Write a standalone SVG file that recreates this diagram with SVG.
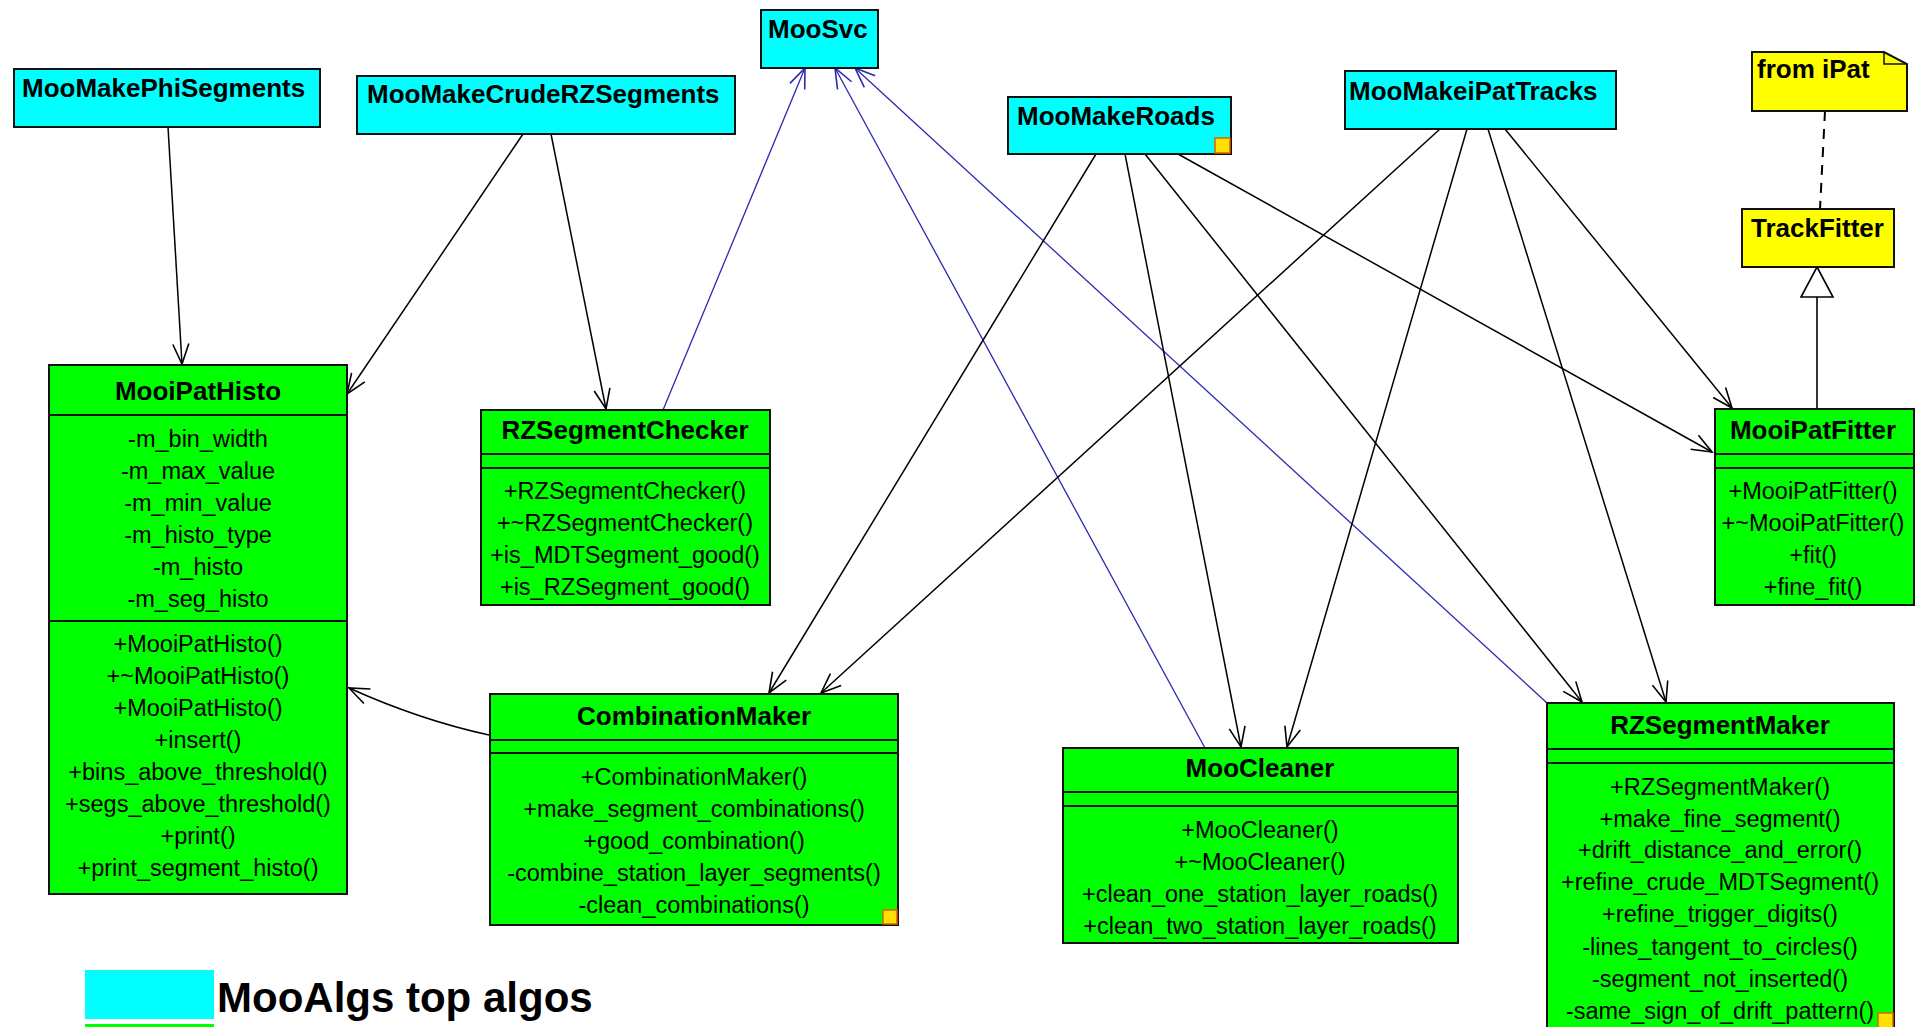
<svg xmlns="http://www.w3.org/2000/svg" width="1916" height="1027" viewBox="0 0 1916 1027">
  <defs>
    <style>
      .algo { fill: #00ffff; stroke: #111; stroke-width: 2; }
      .cls { fill: #00ff00; stroke: #111; stroke-width: 2; }
      .ext { fill: #ffff00; stroke: #111; stroke-width: 2; }
      .sep { stroke: #111; stroke-width: 2; }
      .flag { fill: #ffe000; stroke: #e06000; stroke-width: 1.5; }
      .name { font-family: "Liberation Sans", Arial, sans-serif; font-weight: bold; font-size: 26px; fill: #000; }
      .cname { font-family: "Liberation Sans", Arial, sans-serif; font-weight: bold; font-size: 26px; fill: #000; text-anchor: middle; }
      .member { font-family: "Liberation Sans", Arial, sans-serif; font-size: 23.5px; fill: #000; text-anchor: middle; }
      .dep { fill: none; stroke: #000; stroke-width: 1.5; marker-end: url(#open); }
      .use { fill: none; stroke: #2a2ab0; stroke-width: 1.3; marker-end: url(#openBlue); }
      .legend { font-family: "Liberation Sans", Arial, sans-serif; font-weight: bold; font-size: 42px; fill: #000; }
    </style>
    <marker id="open" viewBox="-22 -10 24 20" refX="0" refY="0" markerWidth="24" markerHeight="20" markerUnits="userSpaceOnUse" orient="auto">
      <path d="M-20,-8 L0,0 L-20,8" fill="none" stroke="#000" stroke-width="1.6"/>
    </marker>
    <marker id="openBlue" viewBox="-22 -10 24 20" refX="0" refY="0" markerWidth="24" markerHeight="20" markerUnits="userSpaceOnUse" orient="auto">
      <path d="M-20,-8 L0,0 L-20,8" fill="none" stroke="#2a2ab0" stroke-width="1.6"/>
    </marker>
  </defs>

  <rect width="1916" height="1027" fill="#fff"/>

  <!-- connectors -->
  <g id="connectors">
    <line class="dep" x1="168" y1="127" x2="182" y2="364"/>
    <line class="dep" x1="523" y1="134" x2="347" y2="394"/>
    <line class="dep" x1="551" y1="134" x2="606" y2="409"/>
    <line class="use" x1="663" y1="410" x2="805" y2="68"/>
    <line class="use" x1="1205" y1="748" x2="835" y2="68"/>
    <line class="use" x1="1547" y1="703" x2="855" y2="68"/>
    <line class="dep" x1="1096" y1="154" x2="769" y2="693"/>
    <line class="dep" x1="1440" y1="129" x2="821" y2="693"/>
    <line class="dep" x1="1125" y1="154" x2="1241" y2="747"/>
    <line class="dep" x1="1467" y1="129" x2="1287" y2="747"/>
    <line class="dep" x1="1145" y1="154" x2="1582" y2="702"/>
    <line class="dep" x1="1488" y1="129" x2="1666" y2="702"/>
    <line class="dep" x1="1178" y1="154" x2="1712" y2="452" stroke-width="2"/>
    <line class="dep" x1="1505" y1="129" x2="1732" y2="408"/>
    <path class="dep" d="M489,735 Q420,720 349,688"/>
    <!-- note anchor -->
    <line x1="1825" y1="111" x2="1820" y2="209" stroke="#000" stroke-width="2" stroke-dasharray="10 8"/>
    <!-- generalization MooiPatFitter -> TrackFitter -->
    <line x1="1817" y1="297" x2="1817" y2="409" stroke="#000" stroke-width="1.6"/>
    <path d="M1817,267 L1833,297 L1801,297 Z" fill="#fff" stroke="#000" stroke-width="1.6"/>
  </g>

  <!-- top-level algorithms -->
  <g id="MooMakePhiSegments">
    <rect class="algo" x="14" y="69" width="306" height="58"/>
    <text class="name" x="22" y="97">MooMakePhiSegments</text>
  </g>
  <g id="MooMakeCrudeRZSegments">
    <rect class="algo" x="357" y="76" width="378" height="58"/>
    <text class="name" x="367" y="103">MooMakeCrudeRZSegments</text>
  </g>
  <g id="MooSvc">
    <rect class="algo" x="761" y="10" width="117" height="58"/>
    <text class="name" x="768" y="38">MooSvc</text>
  </g>
  <g id="MooMakeRoads">
    <rect class="algo" x="1008" y="97" width="223" height="57"/>
    <text class="name" x="1017" y="125">MooMakeRoads</text>
    <rect class="flag" x="1215" y="138" width="15" height="15"/>
  </g>
  <g id="MooMakeiPatTracks">
    <rect class="algo" x="1345" y="71" width="271" height="58"/>
    <text class="name" x="1349" y="100">MooMakeiPatTracks</text>
  </g>

  <!-- external classes -->
  <g id="note-from-iPat">
    <path class="ext" d="M1752,52 H1884 L1907,64 V111 H1752 Z"/>
    <path d="M1884,52 V64 H1907" fill="none" stroke="#111" stroke-width="1.5"/>
    <text class="name" x="1757" y="78">from iPat</text>
  </g>
  <g id="TrackFitter">
    <rect class="ext" x="1742" y="209" width="152" height="58"/>
    <text class="name" x="1751" y="237">TrackFitter</text>
  </g>

  <!-- classes -->
  <g id="MooiPatHisto">
    <rect class="cls" x="49" y="365" width="298" height="529"/>
    <text class="cname" x="198" y="400">MooiPatHisto</text>
    <line class="sep" x1="49" y1="415" x2="347" y2="415"/>
    <text class="member" x="198" y="447">-m_bin_width</text>
    <text class="member" x="198" y="479">-m_max_value</text>
    <text class="member" x="198" y="511">-m_min_value</text>
    <text class="member" x="198" y="543">-m_histo_type</text>
    <text class="member" x="198" y="575">-m_histo</text>
    <text class="member" x="198" y="607">-m_seg_histo</text>
    <line class="sep" x1="49" y1="621" x2="347" y2="621"/>
    <text class="member" x="198" y="652">+MooiPatHisto()</text>
    <text class="member" x="198" y="684">+~MooiPatHisto()</text>
    <text class="member" x="198" y="716">+MooiPatHisto()</text>
    <text class="member" x="198" y="748">+insert()</text>
    <text class="member" x="198" y="780">+bins_above_threshold()</text>
    <text class="member" x="198" y="812">+segs_above_threshold()</text>
    <text class="member" x="198" y="844">+print()</text>
    <text class="member" x="198" y="876">+print_segment_histo()</text>
  </g>

  <g id="RZSegmentChecker">
    <rect class="cls" x="481" y="410" width="289" height="195"/>
    <text class="cname" x="625" y="439">RZSegmentChecker</text>
    <line class="sep" x1="481" y1="454" x2="770" y2="454"/>
    <line class="sep" x1="481" y1="468" x2="770" y2="468"/>
    <text class="member" x="625" y="499">+RZSegmentChecker()</text>
    <text class="member" x="625" y="531">+~RZSegmentChecker()</text>
    <text class="member" x="625" y="563">+is_MDTSegment_good()</text>
    <text class="member" x="625" y="595">+is_RZSegment_good()</text>
  </g>

  <g id="CombinationMaker">
    <rect class="cls" x="490" y="694" width="408" height="231"/>
    <text class="cname" x="694" y="725">CombinationMaker</text>
    <line class="sep" x1="490" y1="740" x2="898" y2="740"/>
    <line class="sep" x1="490" y1="753" x2="898" y2="753"/>
    <text class="member" x="694" y="785">+CombinationMaker()</text>
    <text class="member" x="694" y="817">+make_segment_combinations()</text>
    <text class="member" x="694" y="849">+good_combination()</text>
    <text class="member" x="694" y="881">-combine_station_layer_segments()</text>
    <text class="member" x="694" y="913">-clean_combinations()</text>
    <rect class="flag" x="883" y="910" width="14" height="14"/>
  </g>

  <g id="MooCleaner">
    <rect class="cls" x="1063" y="748" width="395" height="195"/>
    <text class="cname" x="1260" y="777">MooCleaner</text>
    <line class="sep" x1="1063" y1="792" x2="1458" y2="792"/>
    <line class="sep" x1="1063" y1="806" x2="1458" y2="806"/>
    <text class="member" x="1260" y="838">+MooCleaner()</text>
    <text class="member" x="1260" y="870">+~MooCleaner()</text>
    <text class="member" x="1260" y="902">+clean_one_station_layer_roads()</text>
    <text class="member" x="1260" y="934">+clean_two_station_layer_roads()</text>
  </g>

  <g id="RZSegmentMaker">
    <rect class="cls" x="1547" y="703" width="347" height="340"/>
    <text class="cname" x="1720" y="734">RZSegmentMaker</text>
    <line class="sep" x1="1547" y1="749" x2="1894" y2="749"/>
    <line class="sep" x1="1547" y1="763" x2="1894" y2="763"/>
    <text class="member" x="1720" y="795">+RZSegmentMaker()</text>
    <text class="member" x="1720" y="827">+make_fine_segment()</text>
    <text class="member" x="1720" y="858">+drift_distance_and_error()</text>
    <text class="member" x="1720" y="890">+refine_crude_MDTSegment()</text>
    <text class="member" x="1720" y="922">+refine_trigger_digits()</text>
    <text class="member" x="1720" y="955">-lines_tangent_to_circles()</text>
    <text class="member" x="1720" y="987">-segment_not_inserted()</text>
    <text class="member" x="1720" y="1019">-same_sign_of_drift_pattern()</text>
    <rect class="flag" x="1878" y="1013" width="15" height="15"/>
  </g>

  <g id="MooiPatFitter">
    <rect class="cls" x="1715" y="409" width="199" height="196"/>
    <text class="cname" x="1813" y="439">MooiPatFitter</text>
    <line class="sep" x1="1715" y1="454" x2="1914" y2="454"/>
    <line class="sep" x1="1715" y1="468" x2="1914" y2="468"/>
    <text class="member" x="1813" y="499">+MooiPatFitter()</text>
    <text class="member" x="1813" y="531">+~MooiPatFitter()</text>
    <text class="member" x="1813" y="563">+fit()</text>
    <text class="member" x="1813" y="595">+fine_fit()</text>
  </g>

  <!-- legend -->
  <g id="legend">
    <rect x="85" y="970" width="129" height="49" fill="#00ffff"/>
    <rect x="85" y="1024" width="129" height="10" fill="#00ff00"/>
    <text class="legend" x="217" y="1012">MooAlgs top algos</text>
  </g>
</svg>
